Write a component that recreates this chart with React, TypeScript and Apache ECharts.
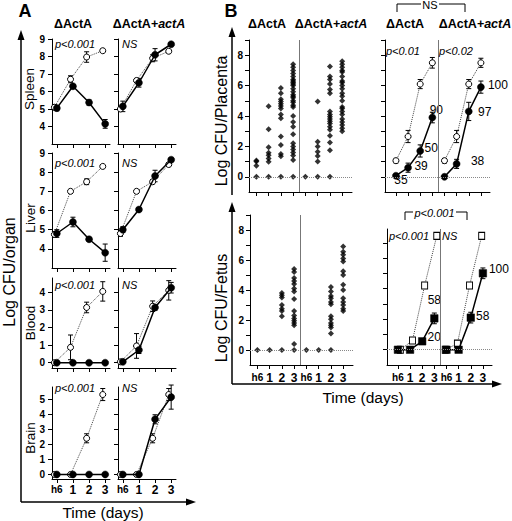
import React, { useEffect, useRef } from 'react';
import * as echarts from 'echarts';

// ---------- data ----------
const DAY_POS = [0, 1, 2, 3];
const DAY_LABELS = ['h6', '1', '2', '3'];

// Panel A (Log CFU/organ). "Open" = dotted open circles, "Filled" = solid filled circles
const spleenMutOpen = [5.1, 6.7, 7.97, 8.33];
const spleenMutOpenErr = [0.15, 0.2, 0.3, 0.1];
const spleenMutFilled = [5.05, 6.3, 5.37, 4.15];
const spleenMutFilledErr = [0.15, 0.1, 0.15, 0.25];
const spleenCompOpen = [5.0, 6.63, 7.9, 8.3];
const spleenCompOpenErr = [0.1, 0.1, 0.2, 0.1];
const spleenCompFilled = [5.15, 6.5, 8.1, 8.7];
const spleenCompFilledErr = [0.3, 0.25, 0.35, 0.1];

const liverMutOpen = [4.75, 7.0, 7.5, 8.3];
const liverMutOpenErr = [0.15, 0.05, 0.15, 0.1];
const liverMutFilled = [4.8, 5.4, 4.5, 3.8];
const liverMutFilledErr = [0.2, 0.25, 0.1, 0.45];
const liverCompOpen = [4.8, 7.0, 7.5, 8.4];
const liverCompOpenErr = [0.15, 0.05, 0.1, 0.1];
const liverCompFilled = [5.0, 6.05, 7.8, 8.65];
const liverCompFilledErr = [0.15, 0.1, 0.3, 0.1];

const bloodMutOpen = [0, 0.87, 3.13, 4.04];
const bloodMutOpenErr = [0, 0.7, 0.3, 0.55];
const bloodMutFilled = [0, 0, 0, 0];
const bloodMutFilledErr = [0, 0, 0, 0];
const bloodCompOpen = [0.05, 0.95, 3.2, 4.1];
const bloodCompOpenErr = [0, 0.7, 0.3, 0.55];
const bloodCompFilled = [0.05, 0.72, 3.13, 4.25];
const bloodCompFilledErr = [0, 0.2, 0.15, 0.3];

const brainMutOpen = [0, 0, 2.4, 5.3];
const brainMutOpenErr = [0, 0, 0.3, 0.4];
const brainMutFilled = [0, 0, 0, 0];
const brainMutFilledErr = [0, 0, 0, 0];
const brainCompOpen = [0, 0, 2.4, 5.3];
const brainCompOpenErr = [0, 0, 0.3, 0.4];
const brainCompFilled = [0, 0, 3.66, 5.13];
const brainCompFilledErr = [0, 0, 0.3, 0.8];

// Panel B scatter: individual values per time point (h6, 1, 2, 3)
const placentaMutPts = [
  [1.07, 1.0, 0.73, 0],
  [4.64, 3.13, 1.94, 1.59, 1.41, 1.21, 0.99, 0],
  [5.85, 5.5, 5.1, 4.95, 4.8, 4.65, 4.5, 4.1, 3.85, 2.65, 2.1, 1.5, 1.35, 0],
  [7.4, 7.2, 7.0, 6.8, 6.6, 6.4, 6.3, 6.2, 6.1, 6.0, 5.8, 5.6, 5.4, 5.3, 5.2, 5.0, 4.9, 4.7, 4.6, 4.0, 3.6, 3.3, 2.8, 2.2, 2.0, 1.8, 1.6, 1.4, 1.1, 0],
];
const placentaCompPts = [
  [0],
  [4.95, 2.3, 2.0, 1.65, 1.37, 1.0, 0],
  [7.25, 6.6, 6.4, 6.1, 5.75, 5.5, 4.3, 4.1, 3.95, 3.8, 3.65, 3.5, 3.3, 3.1, 2.7, 2.25, 1.75, 0],
  [7.6, 7.4, 7.2, 7.0, 6.9, 6.6, 6.3, 6.2, 6.0, 5.8, 5.5, 5.3, 5.0, 4.6, 4.5, 4.3, 4.1, 3.8, 3.6, 3.4, 3.2, 3.0],
];
const fetusMutPts = [
  [0],
  [0],
  [3.8, 3.65, 3.5, 3.0, 2.75, 2.6, 2.25, 0],
  [5.4, 5.2, 4.8, 4.6, 4.4, 4.1, 3.9, 3.4, 2.6, 2.3, 2.1, 1.95, 1.8, 1.65, 0.4, 0],
];
const fetusCompPts = [
  [0],
  [0],
  [4.2, 3.9, 3.6, 3.45, 3.2, 3.05, 2.25, 2.05, 1.8, 1.65, 1.5, 1.1, 0],
  [6.9, 6.55, 6.35, 6.1, 5.9, 5.25, 5.0, 4.35, 4.0, 3.45, 3.2, 3.0, 2.75, 2.6],
];

// Panel B summaries
const placentaMutOpen = [1.06, 2.65, 6.1, 7.5];
const placentaMutOpenErr = [0.15, 0.4, 0.3, 0.35];
const placentaMutFilled = [0.07, 0.6, 1.7, 3.9];
const placentaMutFilledErr = [0.1, 0.3, 0.4, 0.35];
const placentaMutPct = ['35', '39', '50', '90'];
const placentaCompOpen = [1.06, 2.65, 6.1, 7.5];
const placentaCompOpenErr = [0.15, 0.4, 0.3, 0.3];
const placentaCompFilled = [0, 0.85, 4.3, 5.9];
const placentaCompFilledErr = [0, 0.3, 0.6, 0.4];
const placentaCompPct = ['', '38', '97', '100'];

const fetusMutOpen = [0, 0.6, 4.2, 7.45];
const fetusMutFilled = [0, 0, 0.55, 2.05];
const fetusMutFilledErr = [0, 0, 0.15, 0.35];
const fetusMutPct = ['', '', '20', '58'];
const fetusCompOpen = [0, 0.4, 4.2, 7.45];
const fetusCompFilled = [0, 0, 2.1, 5.0];
const fetusCompFilledErr = [0, 0, 0.35, 0.35];
const fetusCompPct = ['', '', '58', '100'];

// ---------- helpers ----------
const FONT = '"Liberation Sans", Arial, sans-serif';
const range = (a: number, b: number) => { const r: number[] = []; for (let i = a; i <= b; i++) r.push(i); return r; };

function errRender(params: any, api: any) {
  const x = api.value(0), lo = api.value(1), hi = api.value(2);
  const a = api.coord([x, lo]);
  const b = api.coord([x, hi]);
  const cap = 2.5;
  const st = { stroke: '#000', lineWidth: 1 };
  return {
    type: 'group',
    children: [
      { type: 'line', shape: { x1: a[0], y1: a[1], x2: b[0], y2: b[1] }, style: st },
      { type: 'line', shape: { x1: a[0] - cap, y1: a[1], x2: a[0] + cap, y2: a[1] }, style: st },
      { type: 'line', shape: { x1: b[0] - cap, y1: b[1], x2: b[0] + cap, y2: b[1] }, style: st },
    ],
  };
}

function errSeries(gi: number, xs: number[], vals: number[], errs: number[]) {
  const data: number[][] = [];
  vals.forEach((v, i) => { if (errs[i] > 0) data.push([xs[i], v - errs[i], v + errs[i]]); });
  return {
    type: 'custom', xAxisIndex: gi, yAxisIndex: gi, renderItem: errRender, data,
    encode: { x: 0, y: [1, 2] }, z: 1.5, silent: true, clip: false,
  };
}

function lineSeries(gi: number, xs: number[], vals: number[], open: boolean, shape: string, labels?: string[], labelOffsets?: number[][]) {
  return {
    type: 'line', xAxisIndex: gi, yAxisIndex: gi, clip: false,
    data: vals.map((v, i) => {
      const item: any = { value: [xs[i], v] };
      if (labels && labels[i]) {
        item.label = {
          show: true, formatter: labels[i], position: 'inside', offset: labelOffsets ? labelOffsets[i] : [0, 0],
          color: '#000', fontSize: 12, fontFamily: FONT,
        };
      }
      return item;
    }),
    symbol: shape,
    symbolSize: open ? (shape === 'rect' ? [6, 7] : 6) : (shape === 'rect' ? 7.5 : 7),
    itemStyle: open ? { color: '#fff', borderColor: '#000', borderWidth: 1 } : { color: '#000', borderColor: '#000', borderWidth: 0.5 },
    lineStyle: open ? { type: 'dotted', width: 1, color: '#444' } : { type: 'solid', width: 1.5, color: '#000' },
    z: open ? 2 : 3,
    silent: true,
  };
}

const OPEN_SHIFT = -0.15;

function App() {
  const ref = useRef<HTMLDivElement>(null);
  useEffect(() => {
    if (!ref.current) return;
    const chart = echarts.init(ref.current, null, { renderer: 'svg' });

    const grids: any[] = [];
    const xAxes: any[] = [];
    const yAxes: any[] = [];
    const series: any[] = [];

    const axisLine = { show: true, onZero: false, lineStyle: { color: '#000', width: 1 } };
    const noSplit = { show: false, showMinLine: false, showMaxLine: false };
    const noArea = { show: false };
    const common = {
      splitLine: noSplit, splitArea: noArea, minorTick: { show: false }, minorSplitLine: { show: false },
      axisPointer: { show: false },
    };

    // ---- Panel A ----
    const organs = [
      { top: 39, h: 105, min: 3, max: 9, vals: range(4, 9),
        mut: [spleenMutOpen, spleenMutOpenErr, spleenMutFilled, spleenMutFilledErr],
        comp: [spleenCompOpen, spleenCompOpenErr, spleenCompFilled, spleenCompFilledErr] },
      { top: 153, h: 115, min: 3, max: 9, vals: range(4, 9),
        mut: [liverMutOpen, liverMutOpenErr, liverMutFilled, liverMutFilledErr],
        comp: [liverCompOpen, liverCompOpenErr, liverCompFilled, liverCompFilledErr] },
      { top: 278, h: 90, min: -0.3, max: 4.8, vals: range(0, 4),
        mut: [bloodMutOpen, bloodMutOpenErr, bloodMutFilled, bloodMutFilledErr],
        comp: [bloodCompOpen, bloodCompOpenErr, bloodCompFilled, bloodCompFilledErr] },
      { top: 387, h: 92, min: -0.3, max: 5.8, vals: range(0, 5),
        mut: [brainMutOpen, brainMutOpenErr, brainMutFilled, brainMutFilledErr],
        comp: [brainCompOpen, brainCompOpenErr, brainCompFilled, brainCompFilledErr] },
    ];

    const xLabelFmt = (v: number) => {
      const l = DAY_LABELS[((Math.round(v) % 4) + 4) % 4];
      return l === 'h6' ? '{s|h6}' : '{n|' + l + '}';
    };
    const xLabelRich = {
      s: { fontSize: 10, fontWeight: 'bold', fontFamily: FONT, color: '#000' },
      n: { fontSize: 12, fontWeight: 'bold', fontFamily: FONT, color: '#000' },
    };

    organs.forEach((o, r) => {
      [0, 1].forEach((c) => {
        const gi = grids.length;
        grids.push({ left: c === 0 ? 52 : 118, top: o.top, width: 58, height: o.h });
        const isBottom = r === organs.length - 1;
        xAxes.push({
          gridIndex: gi, type: 'value', min: -0.3, max: 3.3, position: 'bottom', ...common, axisLine,
          axisTick: { show: true, customValues: DAY_POS, length: 4, lineStyle: { color: '#000' } },
          axisLabel: {
            show: isBottom, customValues: DAY_POS, formatter: xLabelFmt, rich: xLabelRich, margin: 5,
          },
        });
        yAxes.push({
          gridIndex: gi, type: 'value', min: o.min, max: o.max, position: 'left', ...common, axisLine,
          axisTick: { show: true, customValues: o.vals, length: 4, lineStyle: { color: '#000' } },
          axisLabel: {
            show: c === 0, customValues: o.vals, margin: 7,
            fontSize: 10, fontWeight: 'bold', fontFamily: FONT, color: '#000',
          },
        });
        const d = c === 0 ? o.mut : o.comp;
        const xo = DAY_POS.map((x) => x + OPEN_SHIFT);
        series.push(errSeries(gi, xo, d[0], d[1]));
        series.push(errSeries(gi, DAY_POS, d[2], d[3]));
        series.push(lineSeries(gi, xo, d[0], true, 'circle'));
        series.push(lineSeries(gi, DAY_POS, d[2], false, 'circle'));
      });
    });

    // ---- Panel B ----
    const bGrids = [
      { left: 249, top: 40, w: 103, h: 152, min: -0.6, max: 7.8, ymax: 9, labels: false, ylabels: true },
      { left: 385, top: 40, w: 105, h: 152, min: -0.9, max: 7.75, ymax: 9, labels: false, ylabels: false },
      { left: 250, top: 215, w: 103, h: 150, min: -0.6, max: 7.8, ymax: 9, labels: true, ylabels: true },
      { left: 387, top: 229, w: 105, h: 136, min: -0.9, max: 7.75, ymax: 7.9, labels: true, ylabels: false },
    ];
    const bPos = range(0, 7);
    const bIdx: number[] = [];
    bGrids.forEach((g) => {
      const gi = grids.length;
      bIdx.push(gi);
      grids.push({ left: g.left, top: g.top, width: g.w, height: g.h });
      xAxes.push({
        gridIndex: gi, type: 'value', min: g.min, max: g.max, position: 'bottom', ...common, axisLine,
        axisTick: { show: true, customValues: bPos, length: 4, lineStyle: { color: '#000' } },
        axisLabel: { show: g.labels, customValues: bPos, formatter: xLabelFmt, rich: xLabelRich, margin: 7 },
      });
      const tv = range(0, Math.floor(g.ymax));
      yAxes.push({
        gridIndex: gi, type: 'value', min: -1, max: g.ymax, position: 'left', ...common, axisLine,
        axisTick: { show: true, customValues: tv, length: 4, lineStyle: { color: '#000' } },
        axisLabel: {
          show: g.ylabels, customValues: [0, 2, 4, 6, 8], margin: 6,
          fontSize: 10, fontWeight: 'bold', fontFamily: FONT, color: '#000',
        },
      });
    });

    const markLines = {
      silent: true, symbol: 'none', label: { show: false }, animation: false,
      data: [
        { xAxis: 3.5, lineStyle: { type: 'solid', color: '#777', width: 1 } },
        { yAxis: 0, lineStyle: { type: 'dotted', color: '#888', width: 1 } },
      ],
    };

    const scatterData = (pts: number[][], shift: number) =>
      pts.flatMap((vals, j) => vals.map((v) => [DAY_POS[j] + shift, v]));

    [[placentaMutPts, placentaCompPts], [fetusMutPts, fetusCompPts]].forEach((pair, k) => {
      const gi = bIdx[k === 0 ? 0 : 2];
      series.push({
        type: 'scatter', xAxisIndex: gi, yAxisIndex: gi, symbol: 'diamond', symbolSize: 6,
        itemStyle: { color: '#000' }, data: scatterData(pair[0], 0), markLine: markLines, silent: true, z: 3,
      });
      series.push({
        type: 'scatter', xAxisIndex: gi, yAxisIndex: gi, symbol: 'diamond', symbolSize: 6,
        itemStyle: { color: '#000' }, data: scatterData(pair[1], 4), silent: true, z: 3,
      });
    });

    const mutX = DAY_POS;
    const compX = DAY_POS.map((x) => x + 4);
    // placenta summary
    {
      const gi = bIdx[1];
      series.push({ type: 'line', xAxisIndex: gi, yAxisIndex: gi, data: [], markLine: markLines, silent: true });
      series.push(errSeries(gi, mutX, placentaMutOpen, placentaMutOpenErr));
      series.push(errSeries(gi, mutX, placentaMutFilled, placentaMutFilledErr));
      series.push(errSeries(gi, compX, placentaCompOpen, placentaCompOpenErr));
      series.push(errSeries(gi, compX, placentaCompFilled, placentaCompFilledErr));
      series.push(lineSeries(gi, mutX, placentaMutOpen, true, 'circle'));
      series.push(lineSeries(gi, mutX, placentaMutFilled, false, 'circle', placentaMutPct,
        [[5, 4], [13, -2], [11, -3], [4, -8]]));
      series.push(lineSeries(gi, compX, placentaCompOpen, true, 'circle'));
      series.push(lineSeries(gi, compX, placentaCompFilled, false, 'circle', placentaCompPct,
        [[0, 0], [21, -3], [16, 1], [17, -2]]));
    }
    // fetus summary
    {
      const gi = bIdx[3];
      series.push({ type: 'line', xAxisIndex: gi, yAxisIndex: gi, data: [], markLine: markLines, silent: true });
      series.push(errSeries(gi, mutX, fetusMutFilled, fetusMutFilledErr));
      series.push(errSeries(gi, compX, fetusCompFilled, fetusCompFilledErr));
      series.push(lineSeries(gi, mutX.map((x) => x + 0.2), fetusMutOpen, true, 'rect'));
      series.push(lineSeries(gi, mutX, fetusMutFilled, false, 'rect', fetusMutPct,
        [[0, 0], [0, 0], [12, -4], [0, -18]]));
      series.push(lineSeries(gi, compX.map((x) => x - 0.1), fetusCompOpen, true, 'rect'));
      series.push(lineSeries(gi, compX, fetusCompFilled, false, 'rect', fetusCompPct,
        [[0, 0], [0, 0], [12, -2], [16, -4]]));
    }

    // ---- graphics ----
    const txt = (x: number, y: number, text: string, extra: any = {}, rot = 0) => ({
      type: 'text', x, y, rotation: rot, silent: true, z: 200,
      style: { text, fontFamily: FONT, fontSize: 12, fill: '#000', align: 'center', verticalAlign: 'middle', ...extra },
    });
    const ln = (x1: number, y1: number, x2: number, y2: number, w = 1.5) => ({
      type: 'line', silent: true, z: 200, shape: { x1, y1, x2, y2 }, style: { stroke: '#000', lineWidth: w },
    });
    const tri = (pts: number[][]) => ({ type: 'polygon', silent: true, z: 200, shape: { points: pts }, style: { fill: '#000' } });
    const boldT = { fontWeight: 'bold', fontSize: 12.5 };
    const compTitle = (x: number, y: number) => ({
      type: 'text', x, y, silent: true, z: 200,
      style: {
        text: '{b|\u0394ActA+}{i|actA}', align: 'center', verticalAlign: 'middle',
        rich: {
          b: { fontWeight: 'bold', fontSize: 12.5, fontFamily: FONT, fill: '#000' },
          i: { fontWeight: 'bold', fontStyle: 'italic', fontSize: 12.5, fontFamily: FONT, fill: '#000' },
        },
      },
    });
    const pIt = { fontStyle: 'italic', fontSize: 11, align: 'left' };

    // white masks hiding the unwanted top/right frame edges of each plot area (kept below the series)
    const masks: any[] = [];
    grids.forEach((g) => {
      masks.push({
        type: 'rect', silent: true, z: 1,
        shape: { x: g.left + 1.2, y: g.top - 1.5, width: g.width + 1.5, height: 2.6 },
        style: { fill: '#fff' },
      });
      masks.push({
        type: 'rect', silent: true, z: 1,
        shape: { x: g.left + g.width - 1.2, y: g.top - 1.5, width: 2.8, height: g.height - 0.3 },
        style: { fill: '#fff' },
      });
    });

    const graphic: any[] = [
      ...masks,
      txt(25, 11, 'A', { fontWeight: 'bold', fontSize: 18 }),
      txt(231, 11, 'B', { fontWeight: 'bold', fontSize: 18 }),
      txt(73, 24, '\u0394ActA', boldT), compTitle(149, 24),
      txt(267, 24, '\u0394ActA', boldT), compTitle(331, 24),
      txt(405, 24, '\u0394ActA', boldT), compTitle(475, 24),
      // axes arrows A
      ln(21, 502, 21, 38), tri([[21, 30], [17.5, 40], [24.5, 40]]),
      ln(21, 502, 188, 502), tri([[196, 502], [186, 498.5], [186, 505.5]]),
      // axes arrows B
      ln(232, 195, 232, 36), tri([[232, 27], [228.5, 37], [235.5, 37]]),
      ln(232, 384, 232, 211), tri([[232, 202], [228.5, 212], [235.5, 212]]),
      ln(232, 384, 493, 384), tri([[502, 384], [492, 380.5], [492, 387.5]]),
      // axis titles
      txt(9, 272, 'Log CFU/organ', { fontSize: 16 }, Math.PI / 2),
      txt(103, 512, 'Time (days)', { fontSize: 15.5 }),
      txt(363, 397, 'Time (days)', { fontSize: 15.5 }),
      txt(221, 121, 'Log CFU/Placenta', { fontSize: 16 }, Math.PI / 2),
      txt(221, 308, 'Log CFU/Fetus', { fontSize: 16 }, Math.PI / 2),
      // organ labels
      txt(29, 89, 'Spleen', { fontSize: 13.5 }, Math.PI / 2),
      txt(30, 218, 'Liver', { fontSize: 13.5 }, Math.PI / 2),
      txt(30, 323, 'Blood', { fontSize: 13.5 }, Math.PI / 2),
      txt(30, 438, 'Brain', { fontSize: 13.5 }, Math.PI / 2),
      // p values panel A
      txt(55, 44, 'p<0.001', pIt), txt(122, 44, 'NS', pIt),
      txt(55, 163, 'p<0.001', pIt), txt(122, 163, 'NS', pIt),
      txt(55, 285, 'p<0.001', pIt), txt(122, 285, 'NS', pIt),
      txt(55, 388, 'p<0.001', pIt), txt(122, 388, 'NS', pIt),
      // p values panel B
      txt(386, 51, 'p<0.01', pIt), txt(439, 51, 'p<0.02', pIt),
      txt(389, 236, 'p<0.001', pIt), txt(442, 236, 'NS', pIt),
      // NS bracket
      ln(397, 12, 397, 4, 1), ln(397, 4, 421, 4, 1), ln(439, 4, 465, 4, 1), ln(465, 4, 465, 12, 1),
      txt(430, 5, 'NS', { fontSize: 11 }),
      // p<0.001 bracket
      ln(405, 220, 405, 212, 1), ln(405, 212, 413, 212, 1), ln(456, 212, 467, 212, 1), ln(467, 212, 467, 220, 1),
      txt(434.5, 213, 'p<0.001', { fontStyle: 'italic', fontSize: 11 }),
    ];

    chart.setOption({
      animation: false,
      backgroundColor: '#fff',
      textStyle: { fontFamily: FONT },
      grid: grids.map((g) => ({ ...g, show: false, borderWidth: 0, borderColor: 'transparent', containLabel: false })),
      xAxis: xAxes,
      yAxis: yAxes,
      series,
      graphic,
    });
    return () => chart.dispose();
  }, []);
  return <div ref={ref} style={{ position: 'absolute', left: 0, top: 0, width: 512, height: 521, background: '#fff' }} />;
}

export default App;
